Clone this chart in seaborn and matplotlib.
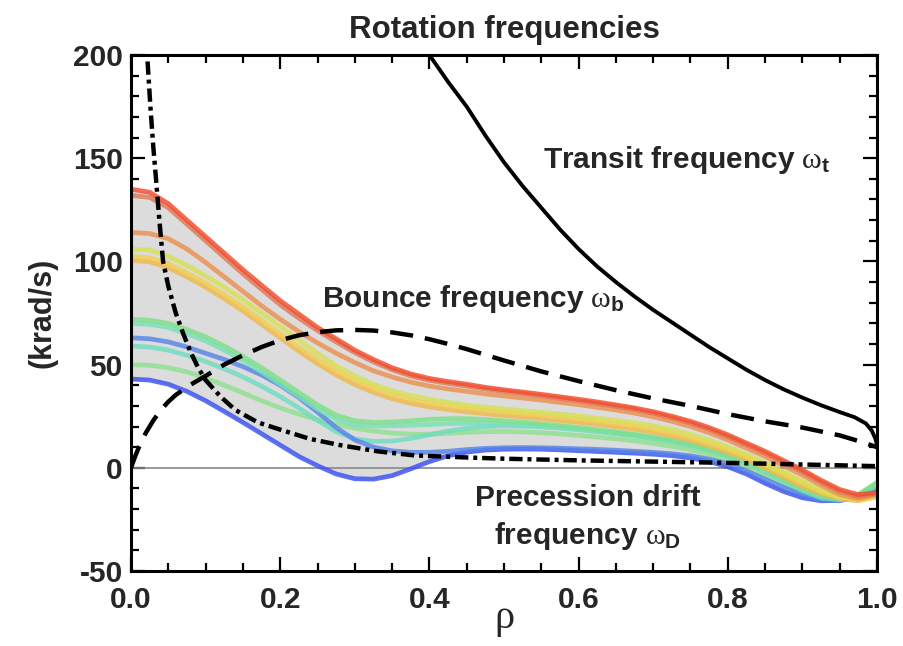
import numpy as np
import pandas as pd
import matplotlib
matplotlib.use("Agg")
import matplotlib.pyplot as plt
from matplotlib.ticker import MultipleLocator, FormatStrFormatter
import seaborn as sns

# ---------------- data ----------------
# Transit frequency (solid)
transit_rho = [0.395, 0.40, 0.425, 0.45, 0.475, 0.50, 0.525, 0.55, 0.575, 0.60,
               0.625, 0.65, 0.675, 0.70, 0.725, 0.75, 0.775, 0.80, 0.825, 0.85,
               0.875, 0.90, 0.925, 0.95, 0.97, 0.985, 0.993, 0.998, 1.0]
transit_val = [205, 200, 187, 175, 161, 148, 136.5, 126, 115.5, 106,
               97.5, 90, 83, 76.5, 70.5, 64.5, 58.5, 53, 47.5, 42.5,
               38, 34, 30.3, 27, 24.5, 21.5, 18, 14, 11]

# Bounce frequency (dashed)
bounce_rho = [0.0, 0.005, 0.01, 0.02, 0.03, 0.04, 0.05, 0.06, 0.08, 0.10, 0.125,
              0.15, 0.175, 0.20, 0.225, 0.25, 0.275, 0.30, 0.325, 0.35, 0.375,
              0.40, 0.425, 0.45, 0.50, 0.55, 0.60, 0.65, 0.70, 0.75, 0.80,
              0.85, 0.90, 0.95, 0.975, 1.0]
bounce_val = [0, 5, 9.5, 17, 23, 28, 32, 35.3, 40.3, 44.5, 50,
              54.5, 58.5, 61.8, 64.2, 65.7, 66.6, 66.8, 66.5, 65.6, 64.2,
              62.3, 60, 57.5, 52, 46.7, 42, 37.6, 33.6, 30, 26,
              22.5, 19.5, 15.7, 13, 10]

# Precession drift frequency (dash-dot)
prec_rho = [0.02, 0.022, 0.026, 0.03, 0.034, 0.038, 0.043, 0.05, 0.06, 0.07,
            0.08, 0.09, 0.10, 0.12, 0.14, 0.17, 0.20, 0.24, 0.28, 0.33, 0.38,
            0.45, 0.50, 0.60, 0.70, 0.80, 0.90, 1.0]
prec_val = [210, 198, 175, 155, 138, 120, 100, 88, 75, 65,
            56, 48.5, 42.5, 34.5, 28, 22, 18.5, 14, 11, 8, 6,
            5, 4.4, 3.6, 3, 2.4, 1.6, 0.8]

# Rotation frequency profiles (coloured band)
rot_rho = [0.0, 0.025, 0.05, 0.075, 0.1, 0.125, 0.15, 0.175, 0.2, 0.225,
           0.25, 0.275, 0.3, 0.325, 0.35, 0.375, 0.4, 0.425, 0.45, 0.475,
           0.5, 0.525, 0.55, 0.575, 0.6, 0.625, 0.65, 0.675, 0.7, 0.725,
           0.75, 0.775, 0.8, 0.825, 0.85, 0.875, 0.9, 0.925, 0.95, 0.975, 1.0]
rot_A = [135, 133.5, 128, 120, 112, 104, 96, 88.5, 81, 74.5,
         68, 62.5, 57, 52.5, 48.5, 45.5, 43.3, 41.8, 40.5, 39,
         37.8, 36.7, 35.6, 34.4, 33.2, 31.9, 30.5, 29, 27.2, 25,
         22.5, 19.5, 16, 12, 8, 3.5, -1, -6, -10.5, -13, -12]
rot_B = [132, 131, 126, 118, 110, 102, 94, 86.5, 79, 72.5,
         66.5, 61, 55.8, 51.3, 47.5, 44.5, 42.4, 40.9, 39.6, 38.2,
         37, 35.9, 34.8, 33.6, 32.4, 31.1, 29.7, 28.2, 26.4, 24.2,
         21.6, 18.6, 15, 11, 7, 2.5, -2, -7, -11.5, -14, -12.5]
rot_C = [114, 113.5, 111, 106, 99.5, 92.5, 85.5, 78.5, 72, 66,
         60.5, 55.5, 51, 47, 44, 41.5, 39.6, 38.2, 37, 35.8,
         34.8, 33.8, 32.8, 31.7, 30.6, 29.3, 28, 26.5, 24.7, 22.5,
         20, 17, 13.5, 9.5, 5.5, 1, -3.5, -8.5, -13, -15, -13]
rot_D = [106, 105.5, 102.5, 98, 93, 87.5, 81.5, 75, 68.5, 62,
         55.5, 49.5, 44.5, 40.5, 37.3, 35, 33.2, 31.7, 30.4, 29.4,
         28.5, 27.7, 26.9, 26, 25.1, 24.1, 23, 21.8, 20.3, 18.5,
         16.2, 13.4, 10.2, 6.5, 2.4, -2, -6.5, -11, -14, -15, -13.5]
rot_E = [102.5, 101.8, 99, 94.5, 89.5, 84, 78, 71.5, 65, 58.5,
         52.5, 47, 42.3, 38.5, 35.5, 33.2, 31.4, 30, 28.8, 27.8,
         27, 26.2, 25.4, 24.5, 23.6, 22.6, 21.5, 20.3, 18.8, 17,
         14.8, 12, 9, 5.5, 1.5, -3, -7.5, -11.5, -14.5, -15.5, -14]
rot_F = [100.5, 99.8, 97, 92.5, 87.5, 82, 76, 69.5, 63, 56.5,
         50.5, 45, 40.3, 36.5, 33.5, 31.2, 29.5, 28.2, 27.1, 26.2,
         25.4, 24.6, 23.8, 22.9, 22, 21, 19.9, 18.7, 17.2, 15.4,
         13.2, 10.5, 7.5, 4, 0, -4.5, -9, -12.5, -15, -16, -14]
rot_G = [72, 71.5, 70, 67, 63.5, 59, 54, 48.5, 42.5, 36.5,
         30.5, 25.5, 22.8, 22, 22.2, 22.8, 23.5, 23.8, 23.8, 23.4,
         22.8, 22.1, 21.3, 20.4, 19.5, 18.5, 17.4, 16.2, 14.9, 13.4,
         11.6, 9.2, 6.3, 3, -1, -5.5, -10, -13.5, -15, -13, -7.5]
rot_H = [70, 69.5, 68, 65, 61.5, 57, 52, 46.5, 40.5, 34.5,
         28.5, 23.5, 21, 20.3, 20.3, 20.6, 21, 21.4, 21.6, 21.6,
         21.4, 21, 20.5, 19.8, 19, 18, 16.9, 15.7, 14.3, 12.8,
         11, 8.6, 5.6, 2.2, -2, -6.5, -11, -14.5, -15.5, -14, -8.5]
rot_I = [63, 62.5, 61, 58.5, 55.5, 52.5, 49, 45, 40, 34,
         27, 19.5, 13.5, 10, 8.2, 7.5, 7.5, 8, 8.8, 9.4,
         9.7, 9.8, 9.7, 9.5, 9.2, 8.9, 8.5, 8, 7.5, 6.8,
         5.8, 4.2, 2, -1.5, -5.5, -9.5, -13, -15.5, -16, -14, -9.5]
rot_J = [59, 58.5, 57, 54.5, 51.5, 48, 44, 39.5, 34.5, 29,
         23, 17.5, 14, 12.8, 13, 14.2, 16, 17.8, 19.2, 20,
         20.3, 20.2, 19.8, 19.2, 18.4, 17.5, 16.5, 15.4, 14.1, 12.6,
         10.8, 8.5, 5.6, 2.2, -2, -6.5, -11, -14.5, -15.5, -13.5, -8]
rot_K = [50, 49.7, 48.5, 46.5, 43.5, 40, 36.3, 32.5, 29, 26,
         23.3, 21, 19.2, 17.8, 16.8, 16.3, 16.3, 16.7, 17.2, 17.5,
         17.6, 17.4, 17, 16.4, 15.7, 14.9, 14, 13, 11.8, 10.4,
         8.7, 6.5, 3.8, 0.5, -3.5, -7.8, -12, -15, -15.5, -13, -7]
rot_L = [43, 42.5, 40.5, 37, 32.5, 27.3, 22, 16.5, 11, 5.5,
         1, -3, -5.3, -5.5, -3.8, -0.5, 3, 5.8, 7.6, 8.6,
         9, 9.1, 9, 8.7, 8.3, 7.9, 7.5, 7.1, 6.6, 5.9,
         4.8, 3, 0.5, -3, -7.5, -11.5, -14.5, -16, -15.8, -13.5, -9.5]

rot_names = ["A", "B", "C", "D", "E", "F", "G", "H", "I", "J", "K", "L"]
rot_series = [rot_A, rot_B, rot_C, rot_D, rot_E, rot_F, rot_G, rot_H, rot_I, rot_J, rot_K, rot_L]
rot_colors = ["#f24c2c", "#e0785a", "#ec9050", "#d8e055", "#f0d050", "#f0b850",
              "#7ee08a", "#78e0b8", "#5585e8", "#70dcc0", "#90e090", "#3a50f0"]

x_ticks = [0.0, 0.2, 0.4, 0.6, 0.8, 1.0]
y_ticks = [-50, 0, 50, 100, 150, 200]

# ---------------- figure ----------------
sns.set_style("ticks")
plt.rcParams["font.family"] = ["Liberation Sans", "DejaVu Sans"]
plt.rcParams["mathtext.fontset"] = "custom"
plt.rcParams["mathtext.rm"] = "Liberation Sans:bold"
plt.rcParams["mathtext.it"] = "Liberation Serif"
plt.rcParams["mathtext.bf"] = "Liberation Sans:bold"

fig = plt.figure(figsize=(9.04, 6.46), dpi=100)
ax = fig.add_axes([131 / 904, 1 - 571 / 646, (877 - 131) / 904, (571 - 55) / 646])

rot_df = pd.concat(
    [pd.DataFrame({"rho": rot_rho, "omega": vals, "curve": name})
     for name, vals in zip(rot_names, rot_series)],
    ignore_index=True)

# grey envelope
env = rot_df.pivot(index="rho", columns="curve", values="omega")
ax.fill_between(env.index, env.min(axis=1), env.max(axis=1),
                color="#dcdcdc", lw=0, zorder=1)

# zero line
ax.axhline(0, color="#888888", lw=1.2, zorder=1.5)

# coloured profiles (draw bottom ones first)
palette = dict(zip(rot_names, rot_colors))
for name in rot_names[::-1]:
    sub = rot_df[rot_df["curve"] == name]
    sns.lineplot(data=sub, x="rho", y="omega", color=palette[name], lw=3.4,
                 alpha=0.82, sort=False, estimator=None, ax=ax, zorder=2,
                 legend=False)

# black curves
sns.lineplot(x=transit_rho, y=transit_val, color="black", lw=2.8,
             sort=False, estimator=None, ax=ax, zorder=4)
sns.lineplot(x=bounce_rho, y=bounce_val, color="black", lw=3.2,
             linestyle=(0, (5.2, 2.7)), sort=False, estimator=None, ax=ax, zorder=4)
sns.lineplot(x=prec_rho, y=prec_val, color="black", lw=3.2,
             linestyle=(0, (3.0, 1.1, 0.9, 1.1)), sort=False, estimator=None,
             ax=ax, zorder=4)

# axes
ax.set_xlim(0, 1)
ax.set_ylim(-50, 200)
ax.set_xticks(x_ticks)
ax.set_yticks(y_ticks)
ax.xaxis.set_major_formatter(FormatStrFormatter("%.1f"))
ax.yaxis.set_major_formatter(FormatStrFormatter("%d"))
ax.xaxis.set_minor_locator(MultipleLocator(0.05))
ax.yaxis.set_minor_locator(MultipleLocator(10))
ax.tick_params(which="both", direction="in", top=True, right=True, width=1.6,
               color="black")
ax.tick_params(which="major", length=10)
ax.tick_params(which="minor", length=5.5)
ax.tick_params(axis="x", which="major", pad=11)
ax.tick_params(axis="y", which="major", pad=6)
for lab in ax.get_xticklabels() + ax.get_yticklabels():
    lab.set_fontsize(21.5)
    lab.set_fontweight("bold")
for sp in ax.spines.values():
    sp.set_linewidth(2.2)
    sp.set_color("black")

ax.set_ylabel("(krad/s)", fontsize=22, fontweight="bold")
ax.yaxis.set_label_coords(-0.098, 0.5)
ax.set_xlabel("ρ", fontsize=29, family="Liberation Serif")
ax.xaxis.set_label_coords(0.5, -0.11)
ax.xaxis.label.set_va("baseline")
ax.set_title("Rotation frequencies", fontsize=22.5, fontweight="bold", pad=12)

# annotations
ax.text(0.552, 149, r"Transit frequency $\omega_\mathrm{t}$", fontsize=21.5,
        fontweight="bold", ha="left", va="center", zorder=5)
ax.text(0.256, 82, r"Bounce frequency $\omega_\mathrm{b}$", fontsize=21.5,
        fontweight="bold", ha="left", va="center", zorder=5)
ax.text(0.612, -14.5, "Precession drift", fontsize=21.5,
        fontweight="bold", ha="center", va="center", zorder=5)
ax.text(0.612, -33, r"frequency $\omega_\mathrm{D}$", fontsize=21.5,
        fontweight="bold", ha="center", va="center", zorder=5)

fig.savefig("out.png", dpi=100)
